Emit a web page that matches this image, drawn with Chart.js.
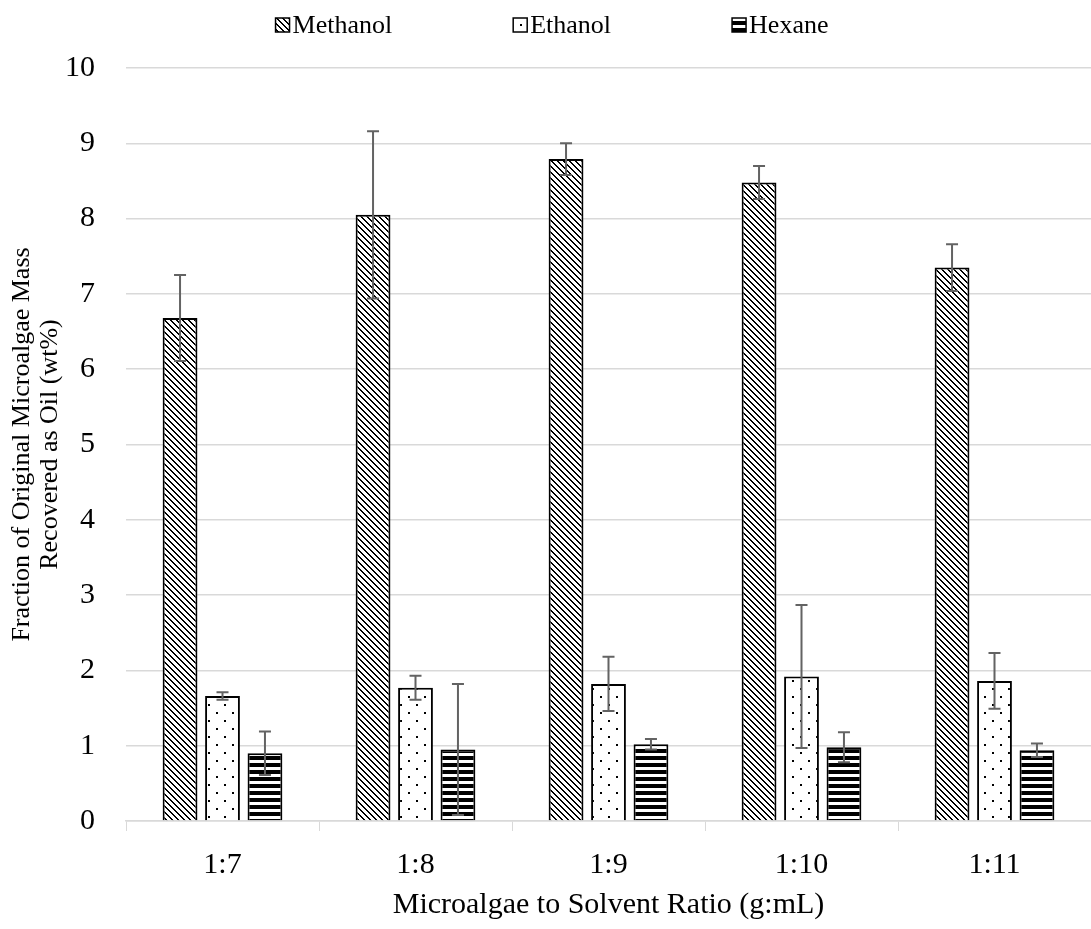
<!DOCTYPE html>
<html>
<head>
<meta charset="utf-8">
<script src="https://cdn.jsdelivr.net/npm/chart.js"></script>
<style>
  body { margin: 0; background: #fff; }
</style>
</head>
<body>
<canvas id="oilChart" width="1091" height="929"></canvas>
<script>
const categories = ["1:7", "1:8", "1:9", "1:10", "1:11"];
const seriesNames = ["Methanol", "Ethanol", "Hexane"];
const methanol = [6.68, 8.05, 8.79, 8.48, 7.35];
const methanolErr = [0.57, 1.11, 0.21, 0.22, 0.31];
const ethanol = [1.66, 1.77, 1.82, 1.92, 1.86];
const ethanolErr = [0.05, 0.16, 0.36, 0.95, 0.37];
const hexane = [0.90, 0.95, 1.02, 0.98, 0.94];
const hexaneErr = [0.29, 0.87, 0.07, 0.20, 0.09];
const yTicks = [0, 1, 2, 3, 4, 5, 6, 7, 8, 9, 10];

const serif = "'Liberation Serif', 'Times New Roman', serif";

// fill patterns like the excel ones
function makeTile(size, draw) {
  const c = document.createElement("canvas");
  c.width = size.w;
  c.height = size.h;
  const g = c.getContext("2d");
  g.fillStyle = "#fff";
  g.fillRect(0, 0, size.w, size.h);
  g.fillStyle = "#000";
  draw(g);
  return document.createElement("canvas").getContext("2d").createPattern(c, "repeat");
}

const diagPattern = makeTile({ w: 6, h: 6 }, (g) => {
  for (let i = 0; i < 6; i++) {
    g.fillRect(i, i, 1, 1);
    g.fillRect((i + 1) % 6, i, 1, 1);
  }
});
const dotPattern = makeTile({ w: 16, h: 16 }, (g) => {
  g.fillRect(0, 0, 2, 2);
  g.fillRect(8, 8, 2, 2);
});
const stripePattern = makeTile({ w: 4, h: 7 }, (g) => {
  g.fillRect(0, 0, 4, 4);
});

const patterns = [diagPattern, dotPattern, stripePattern];
const errors = [methanolErr, ethanolErr, hexaneErr];

const errorBars = {
  id: "errorBars",
  afterDatasetsDraw(chart) {
    const ctx = chart.ctx;
    const y = chart.scales.y;
    ctx.save();
    ctx.strokeStyle = "#636363";
    ctx.lineWidth = 2;
    chart.data.datasets.forEach((ds, i) => {
      const meta = chart.getDatasetMeta(i);
      meta.data.forEach((bar, j) => {
        const v = ds.data[j];
        const e = errors[i][j];
        const top = y.getPixelForValue(v + e);
        const bot = y.getPixelForValue(v - e);
        ctx.beginPath();
        ctx.moveTo(bar.x, top);
        ctx.lineTo(bar.x, bot);
        ctx.moveTo(bar.x - 6, top);
        ctx.lineTo(bar.x + 6, top);
        ctx.moveTo(bar.x - 6, bot);
        ctx.lineTo(bar.x + 6, bot);
        ctx.stroke();
      });
    });
    ctx.restore();
  },
};

const topLegend = {
  id: "topLegend",
  afterDraw(chart) {
    const ctx = chart.ctx;
    ctx.save();
    ctx.font = "26px " + serif;
    ctx.textBaseline = "middle";
    const box = 14, gap = 3, spacing = 121;
    const widths = chart.data.datasets.map((ds) => box + gap + ctx.measureText(ds.label).width);
    const total = widths.reduce((a, b) => a + b, 0) + spacing * (widths.length - 1);
    let x = 552 - total / 2;
    const cy = 25;
    chart.data.datasets.forEach((ds, i) => {
      ctx.fillStyle = ds.backgroundColor;
      ctx.fillRect(x, cy - box / 2, box, box);
      ctx.strokeStyle = "#000";
      ctx.lineWidth = 1.5;
      ctx.strokeRect(x, cy - box / 2, box, box);
      ctx.fillStyle = "#000";
      ctx.fillText(ds.label, x + box + gap, cy + 1);
      x += widths[i] + spacing;
    });
    ctx.restore();
  },
};

const seriesData = [methanol, ethanol, hexane];

new Chart(document.getElementById("oilChart"), {
  type: "bar",
  data: {
    labels: categories,
    datasets: seriesNames.map((name, i) => ({
      label: name,
      data: seriesData[i],
      backgroundColor: patterns[i],
      borderColor: "#000",
      borderWidth: 2,
      categoryPercentage: 0.66,
      barPercentage: 0.82,
    })),
  },
  options: {
    responsive: false,
    animation: false,
    layout: { padding: { top: 68, right: 0, bottom: 0, left: 0 } },
    plugins: {
      legend: { display: false },
      tooltip: { enabled: false },
    },
    scales: {
      x: {
        grid: {
          drawOnChartArea: false,
          drawTicks: true,
          tickLength: 10,
          color: "#d9d9d9",
        },
        border: { color: "#d9d9d9", width: 1.5 },
        ticks: { font: { family: serif, size: 30 }, color: "#000", padding: 16 },
        title: {
          display: true,
          text: "Microalgae to Solvent Ratio (g:mL)",
          font: { family: serif, size: 30 },
          color: "#000",
          padding: { top: 0, bottom: 6 },
        },
        afterFit(s) { s.height = 108; },
      },
      y: {
        min: 0,
        max: 10,
        afterBuildTicks(s) { s.ticks = yTicks.map((v) => ({ value: v })); },
        grid: { color: "#d9d9d9", lineWidth: 1.5, drawTicks: false },
        border: { display: false },
        ticks: { font: { family: serif, size: 30 }, color: "#000", padding: 31 },
        title: {
          display: true,
          text: ["Fraction of Original Microalgae Mass", "Recovered as Oil (wt%)"],
          font: { family: serif, size: 26, lineHeight: "28px" },
          color: "#000",
          padding: { top: 8, bottom: 0 },
        },
        afterFit(s) { s.width = 126; },
      },
    },
  },
  plugins: [errorBars, topLegend],
});
</script>
</body>
</html>
